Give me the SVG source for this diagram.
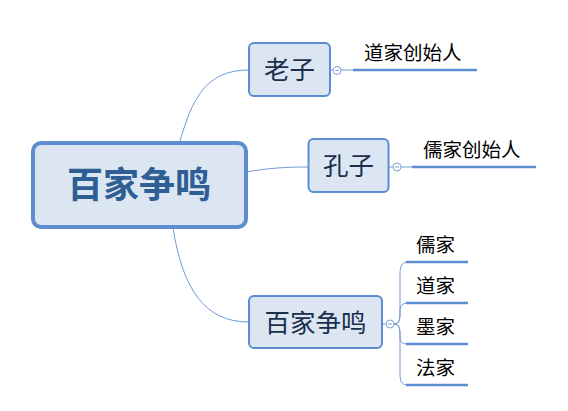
<svg xmlns="http://www.w3.org/2000/svg" width="568" height="411" viewBox="0 0 568 411">
<style>
.node{fill:#DCE6F2;stroke:#5B8DD0;stroke-width:2}
.root{fill:#DCE6F2;stroke:#5B8DD0;stroke-width:4}
.t{font-family:"Noto Sans CJK SC","Microsoft YaHei",sans-serif;text-anchor:middle}
.nt{font-size:25.5px;fill:#1B2F4D}
.rt{font-size:36px;font-weight:bold;fill:#2F5E94}
.lt{font-family:"Noto Sans CJK SC",sans-serif;font-size:19.5px;fill:#000}
.c{fill:none;stroke:#6F9BD6;stroke-width:1}
.u{stroke:#5B8DD0;stroke-width:2.5;fill:none}
.dot{fill:#fff;stroke:#7EA3D8;stroke-width:1}
.m{stroke:#7EA3D8;stroke-width:1}
</style>
<rect width="568" height="411" fill="#fff"/>
<g id="connectors">
<path class="c" d="M180,141 C192,100 205,70 249,70"/>
<path class="c" d="M246,172 C270,168 285,167 309,167"/>
<path class="c" d="M173,228 C183,290 205,322 249,322"/>
<path class="c" d="M331,70 L333,70"/>
<path class="c" d="M341,70 L354,70"/>
<path class="c" d="M389,167 L393,167"/>
<path class="c" d="M401,167 L413,167"/>
<path class="c" d="M383,324 L386,324"/>
<path class="c" d="M394,324 C400,324 400,318 400,310 L400,274 C400,266 402,262 408,262"/>
<path class="c" d="M394,324 C400,324 400,318 400,312 C400,306 402,303 408,303"/>
<path class="c" d="M394,324 C400,324 400,330 400,336 C400,342 402,344 408,344"/>
<path class="c" d="M394,324 C400,324 400,330 400,338 L400,374 C400,382 402,385 408,385"/>
<line class="u" x1="353" y1="70" x2="477" y2="70"/>
<line class="u" x1="412" y1="167" x2="536" y2="167"/>
<line class="u" x1="406" y1="262" x2="468" y2="262"/>
<line class="u" x1="406" y1="303" x2="468" y2="303"/>
<line class="u" x1="406" y1="344" x2="468" y2="344"/>
<line class="u" x1="406" y1="385" x2="468" y2="385"/>
<circle class="dot" cx="337" cy="70.5" r="4"/><line class="m" x1="335" y1="70.5" x2="339" y2="70.5"/>
<circle class="dot" cx="397" cy="167" r="4"/><line class="m" x1="395" y1="167" x2="399" y2="167"/>
<circle class="dot" cx="390" cy="324" r="4"/><line class="m" x1="388" y1="324" x2="392" y2="324"/>
</g>
<g id="root">
<rect class="root" x="33" y="143" width="213" height="84" rx="8"/>
<text class="t rt" x="139" y="198">百家争鸣</text>
</g>
<g id="laozi">
<rect class="node" x="249" y="43" width="81" height="53" rx="5"/>
<text class="t nt" x="289.5" y="79">老子</text>
</g>
<g id="kongzi">
<rect class="node" x="308.5" y="139" width="80" height="53" rx="5"/>
<text class="t nt" x="348.5" y="175">孔子</text>
</g>
<g id="baijia">
<rect class="node" x="249" y="296" width="133" height="52" rx="5"/>
<text class="t nt" x="315.5" y="332">百家争鸣</text>
</g>
<g id="leaf-dao"><text class="lt" x="364" y="60">道家创始人</text></g>
<g id="leaf-ru"><text class="lt" x="423" y="157">儒家创始人</text></g>
<g id="leaf-1"><text class="lt" x="416" y="252">儒家</text></g>
<g id="leaf-2"><text class="lt" x="416" y="293">道家</text></g>
<g id="leaf-3"><text class="lt" x="416" y="334">墨家</text></g>
<g id="leaf-4"><text class="lt" x="416" y="375">法家</text></g>
</svg>
